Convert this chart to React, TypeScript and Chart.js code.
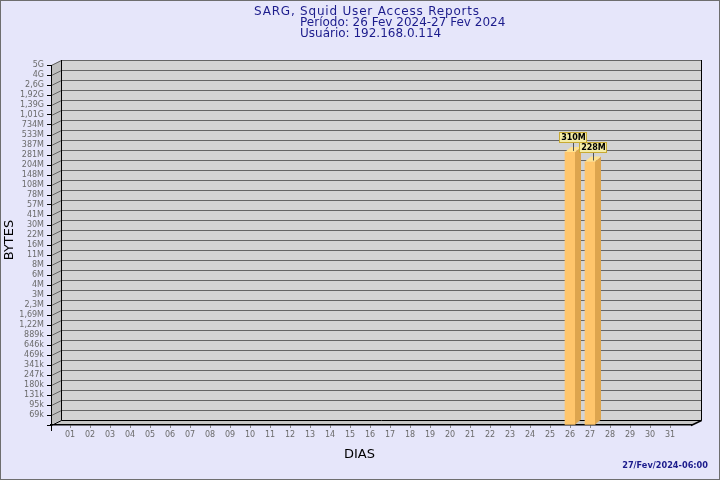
import React, { useEffect, useRef } from "react";
import { Chart, registerables } from "chart.js";
Chart.register(...registerables);

const titleLines = ["SARG, Squid User Access Reports", "Período: 26 Fev 2024-27 Fev 2024", "Usuário: 192.168.0.114"];
const footerText = "27/Fev/2024-06:00";
const xTitle = "DIAS";
const yTitle = "BYTES";

const days = [1, 2, 3, 4, 5, 6, 7, 8, 9, 10, 11, 12, 13, 14, 15, 16, 17, 18, 19, 20, 21, 22, 23, 24, 25, 26, 27, 28, 29, 30, 31];

// bottom to top
const yTickLabels = ["69k", "95k", "131k", "180k", "247k", "341k", "469k", "646k", "889k", "1,22M", "1,69M", "2,3M", "3M", "4M", "6M", "8M", "11M", "16M", "22M", "30M", "41M", "57M", "78M", "108M", "148M", "204M", "281M", "387M", "533M", "734M", "1,01G", "1,39G", "1,92G", "2,6G", "4G", "5G"];
const yTickBytes = [69e3, 95e3, 131e3, 180e3, 247e3, 341e3, 469e3, 646e3, 889e3, 1.22e6, 1.69e6, 2.3e6, 3e6, 4e6, 6e6, 8e6, 11e6, 16e6, 22e6, 30e6, 41e6, 57e6, 78e6, 108e6, 148e6, 204e6, 281e6, 387e6, 533e6, 734e6, 1.01e9, 1.39e9, 1.92e9, 2.6e9, 4e9, 5e9];

const barDays = [26, 27];
const barBytes = [310e6, 228e6];
const barLabels = ["310M", "228M"];

function bytesToPos(v: number): number {
  if (v <= yTickBytes[0]) return v / yTickBytes[0];
  for (let i = 0; i < yTickBytes.length - 1; i++) {
    const a = yTickBytes[i], b = yTickBytes[i + 1];
    if (v <= b) return i + 1 + Math.log(v / a) / Math.log(b / a);
  }
  return yTickBytes.length;
}

const DX = 10, DY = -5; // wall depth
const BDX = 6, BDY = -5; // bar depth
const FONT = '"DejaVu Sans"';

const threeD = {
  id: "threeD",
  beforeDraw(chart: any) {
    const ctx = chart.ctx;
    const { left, right, top, bottom } = chart.chartArea;
    const ys = chart.scales.y;
    ctx.save();
    ctx.fillStyle = "#E6E6FA";
    ctx.fillRect(0, 0, chart.width, chart.height);
    ctx.strokeStyle = "#6e6e6e";
    ctx.lineWidth = 1;
    ctx.strokeRect(0.5, 0.5, chart.width - 1, chart.height - 1);

    // left wall
    ctx.fillStyle = "#BEBEBE";
    ctx.beginPath();
    ctx.moveTo(left, top); ctx.lineTo(left + DX, top + DY); ctx.lineTo(left + DX, bottom + DY); ctx.lineTo(left, bottom);
    ctx.closePath(); ctx.fill();
    // floor
    ctx.fillStyle = "#C8C8C8";
    ctx.beginPath();
    ctx.moveTo(left, bottom); ctx.lineTo(left + DX, bottom + DY); ctx.lineTo(right + DX, bottom + DY); ctx.lineTo(right, bottom);
    ctx.closePath(); ctx.fill();
    // back wall
    ctx.fillStyle = "#D3D3D3";
    ctx.fillRect(left + DX, top + DY, right - left, bottom - top);

    // grid
    ctx.strokeStyle = "#646464";
    ctx.lineWidth = 1;
    for (let i = 1; i <= yTickLabels.length; i++) {
      const y = Math.round(ys.getPixelForValue(i)) + 0.5;
      ctx.beginPath();
      ctx.moveTo(left + DX, y + DY); ctx.lineTo(right + DX, y + DY);
      ctx.stroke();
      ctx.beginPath();
      ctx.moveTo(left + 0.5, y); ctx.lineTo(left + DX + 0.5, y + DY);
      ctx.stroke();
    }
    // edges
    ctx.strokeStyle = "#000";
    ctx.beginPath();
    ctx.moveTo(left + DX + 0.5, top + DY); ctx.lineTo(left + DX + 0.5, bottom + DY + 0.5);
    ctx.lineTo(right + DX + 0.5, bottom + DY + 0.5); ctx.lineTo(right + DX + 0.5, top + DY);
    ctx.stroke();
    ctx.beginPath();
    ctx.moveTo(left + 0.5, bottom + 0.5); ctx.lineTo(left + DX + 0.5, bottom + DY + 0.5);
    ctx.stroke();
    ctx.lineWidth = 1.5;
    ctx.beginPath();
    ctx.moveTo(right, bottom + 0.5); ctx.lineTo(right + DX + 0.5, bottom + DY + 0.5);
    ctx.stroke();
    ctx.lineWidth = 1;
    ctx.beginPath();
    ctx.moveTo(left + 0.5, bottom); ctx.lineTo(left + 0.5, bottom + 6);
    ctx.stroke();
    ctx.restore();
  },
  afterDatasetsDraw(chart: any) {
    const ctx = chart.ctx;
    const meta = chart.getDatasetMeta(0);
    ctx.save();
    meta.data.forEach((bar: any, i: number) => {
      const l = bar.x - bar.width / 2, r = bar.x + bar.width / 2;
      const t = bar.y, b = bar.base;
      ctx.fillStyle = "#DDA54E";
      ctx.beginPath();
      ctx.moveTo(r, t); ctx.lineTo(r + BDX, t + BDY); ctx.lineTo(r + BDX, b + BDY); ctx.lineTo(r, b);
      ctx.closePath(); ctx.fill();
      ctx.fillStyle = "#FFE391";
      ctx.beginPath();
      ctx.moveTo(l, t); ctx.lineTo(l + BDX, t + BDY); ctx.lineTo(r + BDX, t + BDY); ctx.lineTo(r, t);
      ctx.closePath(); ctx.fill();

      // value label
      const cx = Math.round(bar.x + BDX / 2);
      ctx.font = "bold 8px " + FONT;
      const tw = ctx.measureText(barLabels[i]).width;
      const bw = Math.round(tw + 3), bh = 11;
      const bx = cx - Math.round(bw / 2), by = Math.round(t) - 20;
      ctx.strokeStyle = "#555";
      ctx.beginPath();
      ctx.moveTo(cx + 0.5, by + bh); ctx.lineTo(cx + 0.5, t - 1);
      ctx.stroke();
      ctx.fillStyle = "#F3EBA5";
      ctx.fillRect(bx, by, bw, bh);
      ctx.strokeStyle = "#C8AA32";
      ctx.strokeRect(bx + 0.5, by + 0.5, bw - 1, bh - 1);
      ctx.fillStyle = "#000";
      ctx.textAlign = "center";
      ctx.textBaseline = "middle";
      ctx.fillText(barLabels[i], cx + 0.5, by + bh / 2 + 0.5);
    });
    ctx.restore();
  },
  afterDraw(chart: any) {
    const ctx = chart.ctx;
    ctx.save();
    ctx.fillStyle = "#1C1C8C";
    ctx.textBaseline = "alphabetic";
    ctx.font = "12px " + FONT;
    ctx.textAlign = "left";
    (ctx as any).letterSpacing = "0.8px";
    ctx.fillText(titleLines[0], 254, 14.5);
    (ctx as any).letterSpacing = "0px";
    ctx.fillText(titleLines[1], 300, 26);
    ctx.fillText(titleLines[2], 300, 36.5);

    ctx.font = "bold 8.2px " + FONT;
    ctx.textAlign = "right";
    ctx.textBaseline = "middle";
    ctx.fillText(footerText, 708, 466);

    ctx.fillStyle = "#000";
    ctx.font = "13px " + FONT;
    ctx.textAlign = "center";
    ctx.fillText(xTitle, 359.5, 455);
    ctx.translate(10, 240);
    ctx.rotate(-Math.PI / 2);
    ctx.fillText(yTitle, 0, 0);
    ctx.restore();
  },
};

export default function App() {
  const ref = useRef<HTMLCanvasElement>(null);
  useEffect(() => {
    document.body.style.margin = "0";
    Chart.defaults.font.family = FONT;
    const chart = new Chart(ref.current!, {
      type: "bar",
      data: {
        datasets: [
          {
            data: barDays.map((d, i) => ({ x: d, y: bytesToPos(barBytes[i]) })),
            backgroundColor: "#FFC66C",
            borderWidth: 0,
            barThickness: 10,
          },
        ],
      },
      options: {
        responsive: false,
        animation: false,
        layout: { padding: { top: 65, right: 29, left: 0, bottom: 0 } },
        plugins: { legend: { display: false }, tooltip: { enabled: false }, title: { display: false } },
        scales: {
          x: {
            type: "linear",
            offset: false,
            min: 0.05,
            max: 32.05,
            afterBuildTicks: (s: any) => { s.ticks = days.map((d) => ({ value: d })); },
            afterFit: (s: any) => { s.height = 55; },
            grid: { drawOnChartArea: false, drawTicks: true, tickLength: 3, color: "#888", offset: false },
            border: { display: true, color: "#000", width: 1.5 },
            ticks: {
              callback: (v: any) => String(v).padStart(2, "0"),
              color: "#6a6a6a",
              font: { size: 8 },
              padding: 2,
              maxRotation: 0,
              autoSkip: false,
            },
          },
          y: {
            type: "linear",
            min: 0,
            max: 36,
            afterBuildTicks: (s: any) => {
              const t: any[] = [];
              for (let i = 0; i <= yTickLabels.length; i++) t.push({ value: i });
              s.ticks = t;
            },
            afterFit: (s: any) => { s.width = 51; },
            grid: { drawOnChartArea: false, drawTicks: true, tickLength: 4, color: "#000" },
            border: { display: true, color: "#000" },
            ticks: {
              callback: (v: any) => (v === 0 ? "" : yTickLabels[v - 1]),
              color: "#6a6a6a",
              font: { size: 8 },
              padding: 3,
              autoSkip: false,
            },
          },
        },
      },
      plugins: [threeD],
    });
    return () => chart.destroy();
  }, []);
  return <canvas ref={ref} width={720} height={480} style={{ display: "block", width: 720, height: 480 }} />;
}
